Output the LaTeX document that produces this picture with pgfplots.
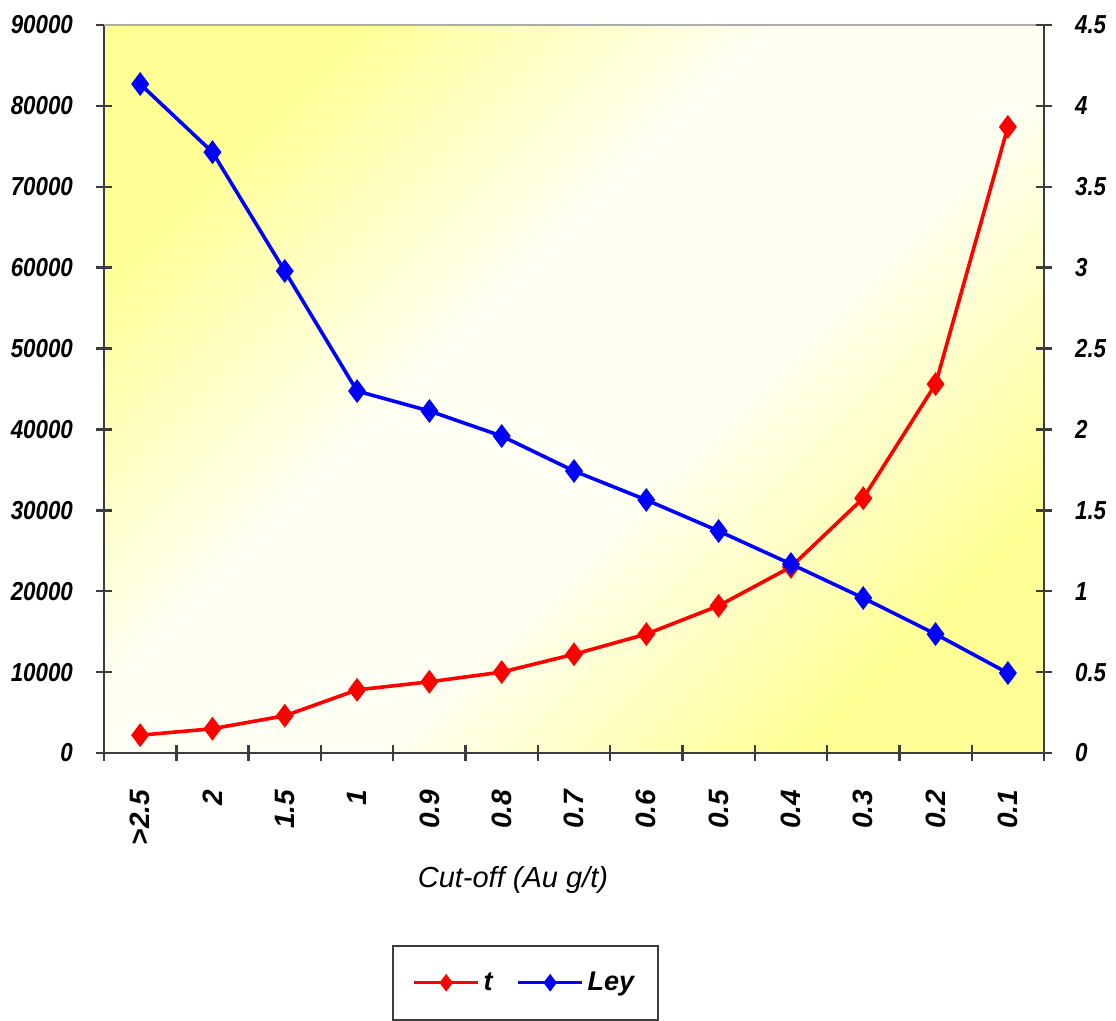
\documentclass[border=0pt]{standalone}
\usepackage{fontspec}
\setmainfont{Liberation Sans}
\newfontfamily\narrowfont[FakeStretch=0.86]{Liberation Sans}
\usepackage{pgfplots}
\pgfplotsset{compat=1.18}
\definecolor{bgy}{RGB}{255,255,150}
\definecolor{bgc}{RGB}{255,255,243}
\definecolor{axgray}{RGB}{60,60,60}
\pgfdeclarehorizontalshading{yw}{100bp}{color(0bp)=(bgy); color(25bp)=(bgy); color(43bp)=(bgc); color(57bp)=(bgc); color(75bp)=(bgy); color(100bp)=(bgy)}
\pgfplotsset{
  common/.style={
    scale only axis, width=470pt, height=364pt,
    xmin=-0.5, xmax=12.5,
    tick align=center, major tick length=8pt,
    axis line style={line width=1.2pt, axgray},
    every tick/.style={line width=1.2pt, axgray},
    tick label style={font=\narrowfont\fontsize{13}{15}\selectfont\bfseries\itshape},
    /pgf/number format/assume math mode=true,
    clip=false,
  },
  tline/.style={red, line width=1.8pt, mark=diamond*, mark size=4.5pt, mark options={solid}},
  lline/.style={blue, line width=1.8pt, mark=diamond*, mark size=4.5pt, mark options={solid}},
}
\begin{document}
\begin{tikzpicture}
\begin{axis}[common, name=main,
  ymin=0, ymax=90000,
  axis x line*=bottom, axis y line*=left,
  xtick={-0.5,0.5,...,12.5}, x tick label as interval,
  xticklabels={>2.5,2,1.5,1,0.9,0.8,0.7,0.6,0.5,0.4,0.3,0.2,0.1},
  xticklabel style={font=\fontsize{14}{16}\selectfont\bfseries\itshape, rotate=90, anchor=east, xshift=-11pt},
  ytick={0,10000,20000,30000,40000,50000,60000,70000,80000,90000},
  scaled y ticks=false,
  yticklabel style={/pgf/number format/1000 sep={}, xshift=-8pt},
  axis background/.style={shade, shading=yw, shading angle=-45},
  xlabel={Cut-off (Au g/t)},
  xlabel style={font=\fontsize{14.5}{16}\selectfont\itshape, at={(rel axis cs:0.435,-0.175)}, anchor=center},
]
\draw[gray!65, line width=1.2pt] (rel axis cs:0,1) -- (rel axis cs:1,1);
\addplot[tline] coordinates {
(0,2200) (1,3000) (2,4600) (3,7800) (4,8800) (5,10000) (6,12200)
(7,14700) (8,18200) (9,23000) (10,31500) (11,45600) (12,77400)};
\end{axis}
\begin{axis}[common,
  ymin=0, ymax=4.5,
  axis y line*=right, axis x line=none,
  ytick={0,0.5,1,1.5,2,2.5,3,3.5,4,4.5},
  yticklabel style={xshift=8pt},
  legend style={at={(rel axis cs:0.306,-0.2637)}, anchor=north west,
    draw=axgray, line width=1pt, font=\fontsize{13.5}{15}\selectfont\bfseries\itshape,
    inner xsep=10pt, inner ysep=11pt, legend columns=2,
    /tikz/every even column/.append style={column sep=10pt}},
  legend image code/.code={\draw[#1, mark size=3.2pt] plot coordinates {(0pt,0pt) (16pt,0pt) (32pt,0pt)};},
  legend cell align=left,
]
\addlegendimage{red, line width=1.5pt, mark=diamond*, mark repeat=2, mark phase=2}
\addlegendentry{t}
\addplot[lline, forget plot] coordinates {
(0,4.135) (1,3.714) (2,2.979) (3,2.237) (4,2.114) (5,1.959) (6,1.743)
(7,1.564) (8,1.372) (9,1.168) (10,0.958) (11,0.735) (12,0.494)};
\addlegendimage{blue, line width=1.5pt, mark=diamond*, mark repeat=2, mark phase=2}
\addlegendentry{Ley}
\end{axis}
\path ([xshift=-52pt,yshift=-134pt]main.south west) rectangle ([xshift=36pt,yshift=12.5pt]main.north east);
\end{tikzpicture}
\end{document}
